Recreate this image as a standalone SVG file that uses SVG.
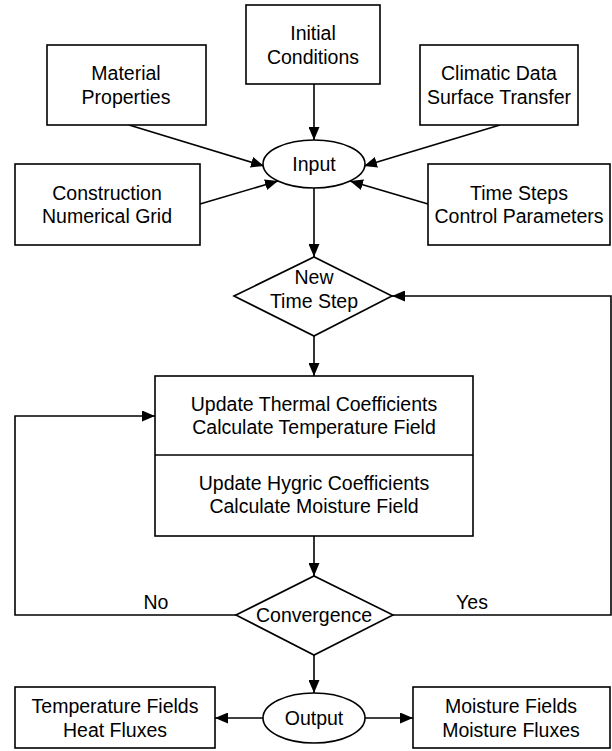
<svg xmlns="http://www.w3.org/2000/svg" width="612" height="751" viewBox="0 0 612 751">
<defs>
<marker id="ah" markerWidth="13" markerHeight="11" refX="13" refY="5.5" orient="auto" markerUnits="userSpaceOnUse">
<path d="M0,0 L13,5.5 L0,11 Z" fill="#000"/>
</marker>
<style>
.box{fill:#fff;stroke:#000;stroke-width:1.6}
.ln{fill:none;stroke:#000;stroke-width:1.6}
.t{font-family:"Liberation Sans",Arial,sans-serif;font-size:19.5px;fill:#000;text-anchor:middle;dominant-baseline:central}
</style>
</defs>
<rect width="612" height="751" fill="#fff"/>
<g id="connectors">
<line class="ln" x1="314" y1="84" x2="314" y2="140" marker-end="url(#ah)"/>
<line class="ln" x1="129" y1="125" x2="264" y2="166" marker-end="url(#ah)"/>
<line class="ln" x1="500" y1="125" x2="364" y2="166" marker-end="url(#ah)"/>
<line class="ln" x1="200" y1="204" x2="278" y2="181" marker-end="url(#ah)"/>
<line class="ln" x1="428" y1="204" x2="350" y2="181" marker-end="url(#ah)"/>
<line class="ln" x1="314" y1="188" x2="314" y2="257" marker-end="url(#ah)"/>
<line class="ln" x1="314" y1="336" x2="314" y2="376" marker-end="url(#ah)"/>
<line class="ln" x1="314" y1="536" x2="314" y2="576" marker-end="url(#ah)"/>
<polyline class="ln" points="236,615 15,615 15,416 155,416" marker-end="url(#ah)"/>
<polyline class="ln" points="393,615 611,615 611,296 392,296" marker-end="url(#ah)"/>
<line class="ln" x1="314" y1="655" x2="314" y2="693" marker-end="url(#ah)"/>
<line class="ln" x1="263" y1="718" x2="215" y2="718" marker-end="url(#ah)"/>
<line class="ln" x1="365" y1="718" x2="413" y2="718" marker-end="url(#ah)"/>
<text class="t" x="156" y="602">No</text>
<text class="t" x="472" y="602">Yes</text>
</g>
<g id="initial">
<rect class="box" x="246" y="5" width="134" height="79"/>
<text class="t" x="313" y="33">Initial</text>
<text class="t" x="313" y="57">Conditions</text>
</g>
<g id="material">
<rect class="box" x="47" y="45" width="159" height="80"/>
<text class="t" x="126" y="73">Material</text>
<text class="t" x="126" y="97">Properties</text>
</g>
<g id="climatic">
<rect class="box" x="420" y="45" width="158" height="80"/>
<text class="t" x="499" y="73">Climatic Data</text>
<text class="t" x="499" y="97">Surface Transfer</text>
</g>
<g id="input">
<ellipse class="box" cx="314" cy="164" rx="51" ry="24"/>
<text class="t" x="314" y="164">Input</text>
</g>
<g id="construction">
<rect class="box" x="15" y="164" width="185" height="81"/>
<text class="t" x="107" y="193">Construction</text>
<text class="t" x="107" y="216">Numerical Grid</text>
</g>
<g id="timesteps">
<rect class="box" x="428" y="164" width="182" height="81"/>
<text class="t" x="519" y="193">Time Steps</text>
<text class="t" x="519" y="216">Control Parameters</text>
</g>
<g id="newtimestep">
<polygon class="box" points="234,296 314,257 392,296 314,336"/>
<text class="t" x="314" y="277">New</text>
<text class="t" x="314" y="301">Time Step</text>
</g>
<g id="update">
<rect class="box" x="155" y="376" width="318" height="160"/>
<line class="ln" x1="155" y1="455" x2="473" y2="455"/>
<text class="t" x="314" y="404">Update Thermal Coefficients</text>
<text class="t" x="314" y="427">Calculate Temperature Field</text>
<text class="t" x="314" y="483">Update Hygric Coefficients</text>
<text class="t" x="314" y="506">Calculate Moisture Field</text>
</g>
<g id="convergence">
<polygon class="box" points="236,615 314,576 393,615 314,655"/>
<text class="t" x="314" y="615">Convergence</text>
</g>
<g id="output">
<ellipse class="box" cx="314" cy="718" rx="51" ry="25"/>
<text class="t" x="314" y="718">Output</text>
</g>
<g id="tempfields">
<rect class="box" x="15" y="687" width="200" height="61"/>
<text class="t" x="115" y="706">Temperature Fields</text>
<text class="t" x="115" y="730">Heat Fluxes</text>
</g>
<g id="moistfields">
<rect class="box" x="413" y="687" width="197" height="61"/>
<text class="t" x="511" y="706">Moisture Fields</text>
<text class="t" x="511" y="730">Moisture Fluxes</text>
</g>
</svg>
